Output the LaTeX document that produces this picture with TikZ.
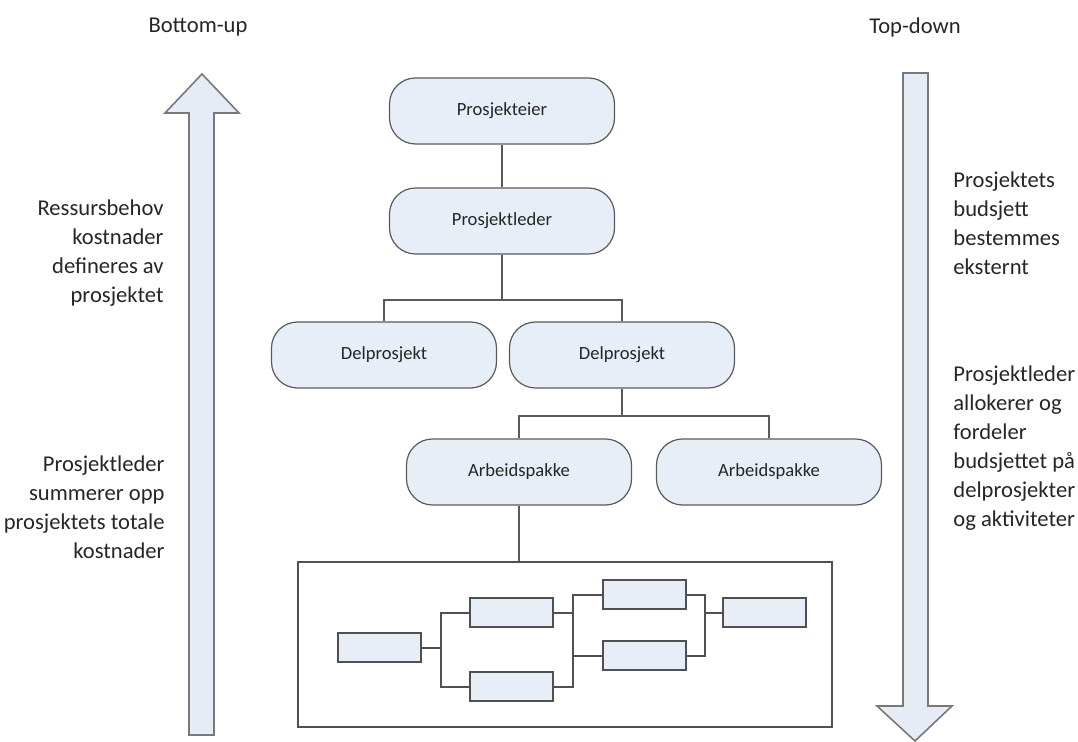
\documentclass[tikz,border=0pt]{standalone}
\usepackage{fontspec}
\setmainfont{Carlito}
\usepackage{tikz}
\definecolor{boxfill}{RGB}{232,238,248}
\definecolor{boxline}{RGB}{90,90,90}
\definecolor{taskline}{RGB}{80,80,80}
\definecolor{arrowfill}{RGB}{230,236,246}
\definecolor{arrowline}{RGB}{120,120,120}
\definecolor{textcol}{RGB}{38,38,38}
\newcommand{\drawlink}{\draw[link]}
\newcommand{\drawnet}{\draw[netlink]}
\tikzset{
  orgbox/.style={draw=boxline, fill=boxfill, rounded corners=13pt, minimum width=112.5pt,
    minimum height=33pt, font=\fontsize{9.3}{11}\selectfont, text=textcol, line width=0.6pt},
  taskbox/.style={draw=taskline, fill=boxfill, minimum width=41.5pt, minimum height=14.5pt,
    inner sep=0pt, line width=1pt},
  planbox/.style={draw=taskline, minimum width=267pt, minimum height=82.5pt, line width=0.7pt},
  sidelabel/.style={font=\fontsize{11.3}{14.5}\selectfont, text=textcol, inner sep=0pt},
  link/.style={draw=boxline, line width=0.6pt},
  netlink/.style={draw=taskline, line width=0.9pt},
  bigarrow/.style={draw=arrowline, fill=arrowfill, line width=0.8pt, line join=miter}
}
\begin{document}
\begin{tikzpicture}[x=0.5pt,y=-0.5pt]
\useasboundingbox (0,0) rectangle (1078,742);
% the two big arrows
\draw[bigarrow] (189,735)--(189,113)--(165,113)--(202,74)--(239,113)--(214,113)--(214,735)--cycle;
\draw[bigarrow] (903,73)--(903,706)--(877,706)--(915,741)--(952,706)--(928,706)--(928,73)--cycle;
\node[sidelabel] (bottomup) at (198,27) {Bottom-up};
\node[sidelabel] (topdown) at (915,27) {Top-down};
\node[sidelabel, anchor=east, align=right] (needs) at (164,253) {Ressursbehov\\kostnader\\defineres av\\prosjektet};
\node[sidelabel, anchor=east, align=right] (sumup) at (165,507) {Prosjektleder\\summerer opp\\prosjektets totale\\kostnader};
\node[sidelabel, anchor=west, align=left] (budget) at (953,223) {Prosjektets\\budsjett\\bestemmes\\eksternt};
\node[sidelabel, anchor=west, align=left] (alloc) at (953,448) {Prosjektleder\\allokerer og\\fordeler\\budsjettet på\\delprosjekter\\og aktiviteter};
% organisation
\node[orgbox] (eier) at (502,111) {Prosjekteier};
\node[orgbox] (leder) at (502,221) {Prosjektleder};
\node[orgbox] (del1) at (384,355) {Delprosjekt};
\node[orgbox] (del2) at (622,355) {Delprosjekt};
\node[orgbox] (pakke1) at (519,472) {Arbeidspakke};
\node[orgbox] (pakke2) at (769,472) {Arbeidspakke};
\coordinate (split1) at (502,300);
\coordinate (split2) at (622,416);
\drawlink (eier)--(leder);
\drawlink (leder)--(split1);
\drawlink (split1)-|(del1);
\drawlink (split1)-|(del2);
\drawlink (del2)--(split2);
\drawlink (split2)-|(pakke1);
\drawlink (split2)-|(pakke2);
% activity network
\node[planbox] (plan) at (565,644.5) {};
\drawlink (pakke1)--(pakke1 |- plan.north);
\node[taskbox] (ta) at (379,648) {};
\node[taskbox] (tb) at (511,613) {};
\node[taskbox] (tc) at (511,687) {};
\node[taskbox] (td) at (644,595) {};
\node[taskbox] (te) at (644,656) {};
\node[taskbox] (tf) at (764,613) {};
\coordinate (j1) at (441,648);
\coordinate (j2) at (573,613);
\coordinate (j3) at (705,613);
\drawnet (ta)--(j1);
\drawnet (j1)|-(tb);
\drawnet (j1)|-(tc);
\drawnet (tb)--(j2);
\drawnet (tc)-|(j2);
\drawnet (j2)|-(td);
\drawnet (j2)|-(te);
\drawnet (td)-|(j3);
\drawnet (te)-|(j3);
\drawnet (j3)--(tf);
\end{tikzpicture}
\end{document}
